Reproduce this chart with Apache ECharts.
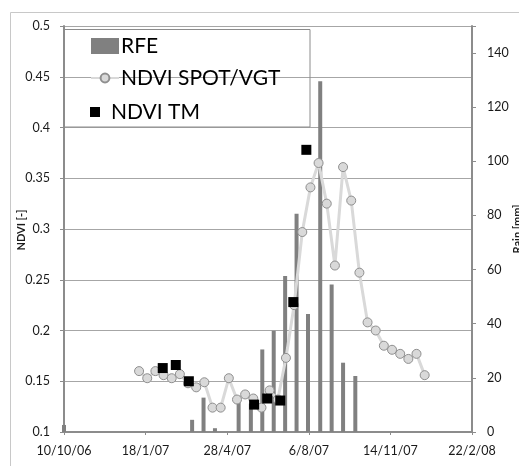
<!DOCTYPE html>
<html><head><meta charset="utf-8">
<script src="https://cdn.jsdelivr.net/npm/echarts@6/dist/echarts.min.js"></script>
<style>html,body{margin:0;padding:0;background:#fff}#c{width:519px;height:466px}</style>
</head><body><div id="c"></div>
<script>
// ---- data ----
const startDate = '2006-10-10';
const xTickLabels = ['10/10/06', '18/1/07', '28/4/07', '6/8/07', '14/11/07', '22/2/08'];
const leftTitle = 'NDVI [-]';
const rightTitle = 'Rain [mm]';

const rfeDates = ['2006-10-10', '2007-03-16', '2007-03-30', '2007-04-13', '2007-05-12', '2007-05-27',
  '2007-06-10', '2007-06-24', '2007-07-08', '2007-07-22', '2007-08-05', '2007-08-20',
  '2007-09-03', '2007-09-17', '2007-10-02'];
const rfeValues = [2.6, 4.5, 12.7, 1.4, 12, 10.5, 30.5, 37.4, 57.6, 80.6, 43.6, 129.6, 54.5, 25.6, 20.7];

const spotDates = ['2007-01-10', '2007-01-20', '2007-01-30', '2007-02-09', '2007-02-19', '2007-03-01',
  '2007-03-11', '2007-03-21', '2007-03-31', '2007-04-10', '2007-04-20', '2007-04-30',
  '2007-05-10', '2007-05-20', '2007-05-30', '2007-06-09', '2007-06-19', '2007-06-29',
  '2007-07-09', '2007-07-19', '2007-07-29', '2007-08-08', '2007-08-18', '2007-08-28',
  '2007-09-07', '2007-09-17', '2007-09-27', '2007-10-07', '2007-10-17', '2007-10-27',
  '2007-11-06', '2007-11-16', '2007-11-26', '2007-12-06', '2007-12-16', '2007-12-26'];
const spotValues = [0.160, 0.153, 0.160, 0.156, 0.153, 0.157, 0.148, 0.144, 0.149, 0.124, 0.124, 0.153,
  0.132, 0.137, 0.133, 0.124, 0.141, 0.132, 0.173, 0.225, 0.297, 0.341, 0.365, 0.325,
  0.264, 0.361, 0.328, 0.257, 0.208, 0.200, 0.185, 0.181, 0.177, 0.172, 0.177, 0.156];

const tmDates = ['2007-02-08', '2007-02-24', '2007-03-12', '2007-05-31', '2007-06-16', '2007-07-02', '2007-07-18', '2007-08-03'];
const tmValues = [0.163, 0.166, 0.150, 0.127, 0.133, 0.131, 0.228, 0.378];

// ---- build ----
function dayOffset(s) { return (Date.parse(s) - Date.parse(startDate)) / 86400000; }
const pairs = (d, v) => d.map((s, i) => [dayOffset(s), v[i]]);

const FONT = 'Lato';
const axisCol = '#8c8c8c';
const gridCol = '#a6a6a6';
const txt = '#1a1a1a';

const chart = echarts.init(document.getElementById('c'), null, { renderer: 'canvas' });
chart.setOption({
  animation: false,
  backgroundColor: '#fff',
  textStyle: { fontFamily: FONT },
  grid: { left: 64, top: 26, width: 408, height: 406, containLabel: false },
  xAxis: {
    type: 'value', min: 0, max: 500, interval: 100,
    axisLine: { show: true, onZero: false, lineStyle: { color: axisCol, width: 2 } },
    axisTick: { show: true, length: 3, lineStyle: { color: axisCol } },
    axisLabel: { margin: 12, fontSize: 12.5, color: txt, fontFamily: FONT,
      formatter: v => xTickLabels[Math.round(v / 100)] || '' },
    splitLine: { show: false }
  },
  yAxis: [{
    type: 'value', min: 0.1, max: 0.5, interval: 0.05,
    axisLine: { show: true, lineStyle: { color: axisCol, width: 2 } },
    axisTick: { show: true, length: 4, lineStyle: { color: axisCol } },
    axisLabel: { margin: 14, fontSize: 12.5, color: txt, fontFamily: FONT },
    splitLine: { show: true, lineStyle: { color: gridCol, width: 1 } }
  }, {
    type: 'value', min: 0, max: 150, interval: 20, position: 'right',
    axisLine: { show: true, lineStyle: { color: axisCol, width: 2 } },
    axisTick: { show: true, length: 4, lineStyle: { color: axisCol } },
    axisLabel: { margin: 15, fontSize: 12.5, color: txt, fontFamily: FONT,
      formatter: v => (v > 140 ? '' : String(v)) },
    splitLine: { show: false }
  }],
  legend: [{
    data: [{ name: 'RFE', icon: 'rect' }],
    left: 91, top: 34, padding: 0, itemWidth: 28, itemHeight: 16,
    textStyle: { fontSize: 21, color: '#000', fontFamily: FONT, lineHeight: 24, padding: [0, 0, 0, -3] }
  }, {
    data: [{ name: 'NDVI SPOT/VGT' }],
    left: 90, top: 66, padding: 0, itemWidth: 28, itemHeight: 11,
    textStyle: { fontSize: 21, color: '#000', fontFamily: FONT, lineHeight: 24, padding: [0, 0, 0, -3] }
  }, {
    data: [{ name: 'NDVI TM', icon: 'path://M0,0h10v10h-10z' }],
    left: 90, top: 100, padding: 0, itemWidth: 28, itemHeight: 10,
    textStyle: { fontSize: 21, color: '#000', fontFamily: FONT, lineHeight: 24, padding: [0, 0, 0, -3] }
  }],
  graphic: [
    { type: 'rect', silent: true, z: 100, shape: { x: 10.5, y: 12.5, width: 700, height: 700 },
      style: { fill: 'none', stroke: '#c8c8c8', lineWidth: 1 } },
    { type: 'rect', silent: true, z: 100, shape: { x: 64.5, y: 29.5, width: 245.5, height: 97.5 },
      style: { fill: 'none', stroke: '#8c8c8c', lineWidth: 1 } },
    { type: 'text', silent: true, z: 100, x: 21.5, y: 230, rotation: Math.PI / 2,
      style: { text: leftTitle, align: 'center', verticalAlign: 'middle',
        font: 'bold 11px Lato', fill: txt } },
    { type: 'text', silent: true, z: 100, x: 517.5, y: 229, rotation: Math.PI / 2,
      style: { text: rightTitle, align: 'center', verticalAlign: 'middle',
        font: 'bold 11px Lato', fill: txt } }
  ],
  series: [{
    name: 'RFE', type: 'bar', xAxisIndex: 0, yAxisIndex: 1,
    barWidth: 4, itemStyle: { color: '#808080', opacity: 1 },
    data: pairs(rfeDates, rfeValues), z: 2
  }, {
    name: 'NDVI SPOT/VGT', type: 'line', xAxisIndex: 0, yAxisIndex: 0,
    symbol: 'circle', symbolSize: 9,
    lineStyle: { color: '#d9d9d9', width: 3 },
    itemStyle: { color: '#d9d9d9', borderColor: '#8f8f8f', borderWidth: 1, opacity: 1 },
    data: pairs(spotDates, spotValues), z: 3
  }, {
    name: 'NDVI TM', type: 'scatter', xAxisIndex: 0, yAxisIndex: 0,
    symbol: 'rect', symbolSize: 10,
    itemStyle: { color: '#000', opacity: 1 },
    data: pairs(tmDates, tmValues), z: 4
  }]
});
</script>
</body></html>
